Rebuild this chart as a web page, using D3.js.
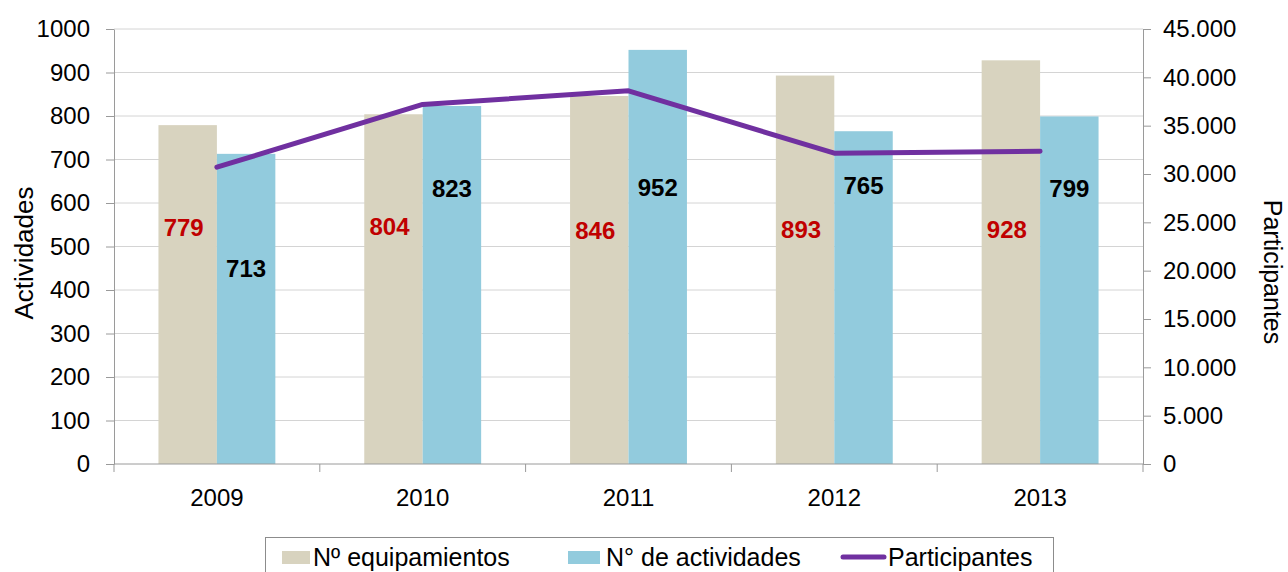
<!DOCTYPE html>
<html lang="es">
<head>
  <meta charset="UTF-8">
  <title>Actividades y participantes 2009-2013</title>
  <style>
    body {
      margin: 0;
      background: #fff;
      font-family: "Liberation Sans", Arial, sans-serif;
    }
    svg text { font-family: "Liberation Sans", Arial, sans-serif; }
  </style>
</head>
<body>
  <svg id="chart" width="1288" height="572"></svg>

  <script src="https://d3js.org/d3.v7.min.js"></script>
  <script>
    // data
    const years = ["2009", "2010", "2011", "2012", "2013"];
    const equipamientos = [779, 804, 846, 893, 928];
    const actividades = [713, 823, 952, 765, 799];
    const participantes = [30700, 37200, 38600, 32150, 32350];
    // where the value labels sit, in left-axis units (placed by hand in the original)
    const equipLabelAt = [543, 545, 537, 540, 538];
    const activLabelAt = [450, 632, 636, 640, 632];
    const leftTicks = [0, 100, 200, 300, 400, 500, 600, 700, 800, 900, 1000];
    const rightTicks = [0, 5000, 10000, 15000, 20000, 25000, 30000, 35000, 40000, 45000];

    const colEquip = "#d8d3bf";
    const colActiv = "#92cbdd";
    const colLine = "#7030a0";

    const margin = { left: 114, right: 145, top: 29, bottom: 108 };
    const W = 1288, H = 572;
    const plotW = W - margin.left - margin.right;
    const plotH = H - margin.top - margin.bottom;

    const svg = d3.select("#chart");
    const g = svg.append("g").attr("transform", `translate(${margin.left},${margin.top})`);

    const x = d3.scaleBand().domain(years).range([0, plotW]);
    const xIn = d3.scaleBand().domain(["eq", "ac"]).range([x.bandwidth() * 0.216, x.bandwidth() * 0.784]);
    const y = d3.scaleLinear().domain([0, 1000]).range([plotH, 0]);
    const y2 = d3.scaleLinear().domain([0, 45000]).range([plotH, 0]);

    // gridlines
    g.append("g")
      .selectAll("line")
      .data(leftTicks.slice(1))
      .join("line")
      .attr("x1", 0).attr("x2", plotW)
      .attr("y1", d => y(d)).attr("y2", d => y(d))
      .attr("stroke", "#d4d4d4").attr("stroke-width", 1);

    // bars
    const grp = g.selectAll(".yr")
      .data(years)
      .join("g")
      .attr("transform", d => `translate(${x(d)},0)`);

    grp.append("rect")
      .attr("x", xIn("eq"))
      .attr("width", xIn.bandwidth())
      .attr("y", (d, i) => y(equipamientos[i]))
      .attr("height", (d, i) => plotH - y(equipamientos[i]))
      .attr("fill", colEquip);

    grp.append("rect")
      .attr("x", xIn("ac"))
      .attr("width", xIn.bandwidth())
      .attr("y", (d, i) => y(actividades[i]))
      .attr("height", (d, i) => plotH - y(actividades[i]))
      .attr("fill", colActiv);

    // participants line
    const line = d3.line()
      .x((d, i) => x(years[i]) + x.bandwidth() / 2)
      .y(d => y2(d));

    g.append("path")
      .datum(participantes)
      .attr("d", line)
      .attr("fill", "none")
      .attr("stroke", colLine)
      .attr("stroke-width", 5)
      .attr("stroke-linecap", "round")
      .attr("stroke-linejoin", "round");

    // value labels
    grp.append("text")
      .attr("x", xIn("eq") + xIn.bandwidth() / 2 - 4)
      .attr("y", (d, i) => y(equipLabelAt[i]))
      .attr("dy", "0.35em")
      .attr("text-anchor", "middle")
      .attr("font-size", 24)
      .attr("font-weight", "bold")
      .attr("fill", "#c00000")
      .text((d, i) => equipamientos[i]);

    grp.append("text")
      .attr("x", xIn("ac") + xIn.bandwidth() / 2)
      .attr("y", (d, i) => y(activLabelAt[i]))
      .attr("dy", "0.35em")
      .attr("text-anchor", "middle")
      .attr("font-size", 24)
      .attr("font-weight", "bold")
      .attr("fill", "#000")
      .text((d, i) => actividades[i]);

    // left axis
    const axL = g.append("g")
      .call(d3.axisLeft(y).tickValues(leftTicks).tickFormat(d3.format("d"))
        .tickSize(8).tickPadding(16).tickSizeOuter(0));
    axL.select(".domain").attr("stroke", "#9a9a9a");
    axL.selectAll(".tick line").attr("stroke", "#9a9a9a");
    axL.selectAll("text").attr("font-size", 24).attr("fill", "#000");

    // right axis
    const fmt = d => d3.format(",")(d).replace(/,/g, ".");
    const axR = g.append("g")
      .attr("transform", `translate(${plotW},0)`)
      .call(d3.axisRight(y2).tickValues(rightTicks).tickFormat(fmt).tickSize(8).tickPadding(12).tickSizeOuter(0));
    axR.select(".domain").attr("stroke", "#9a9a9a");
    axR.selectAll(".tick line").attr("stroke", "#9a9a9a");
    axR.selectAll("text").attr("font-size", 24).attr("fill", "#000");

    // bottom axis: ticks between categories
    const axB = g.append("g").attr("transform", `translate(0,${plotH})`);
    axB.append("line")
      .attr("x1", 0).attr("x2", plotW)
      .attr("stroke", "#9a9a9a");
    axB.selectAll(".sep")
      .data(d3.range(years.length + 1))
      .join("line")
      .attr("x1", d => d * x.step()).attr("x2", d => d * x.step())
      .attr("y1", 0).attr("y2", 8)
      .attr("stroke", "#9a9a9a");
    axB.selectAll(".lab")
      .data(years)
      .join("text")
      .attr("x", d => x(d) + x.bandwidth() / 2)
      .attr("y", 34)
      .attr("dy", "0.35em")
      .attr("text-anchor", "middle")
      .attr("font-size", 24)
      .text(d => d);

    // axis titles
    svg.append("text")
      .attr("transform", "translate(33,253) rotate(-90)")
      .attr("text-anchor", "middle")
      .attr("font-size", 26)
      .text("Actividades");

    svg.append("text")
      .attr("transform", "translate(1264,272) rotate(90)")
      .attr("text-anchor", "middle")
      .attr("font-size", 25)
      .text("Participantes");

    // legend
    const leg = svg.append("g").attr("transform", "translate(265,537)");
    leg.append("rect")
      .attr("x", 0.5).attr("y", 0.5)
      .attr("width", 788).attr("height", 50)
      .attr("fill", "#fff").attr("stroke", "#8c8c8c");

    const items = [
      { name: "Nº equipamientos", type: "rect", color: colEquip, x: 17 },
      { name: "N° de actividades", type: "rect", color: colActiv, x: 303 },
      { name: "Participantes", type: "line", color: colLine, x: 575 }
    ];
    const li = leg.selectAll(".item")
      .data(items)
      .join("g")
      .attr("transform", d => `translate(${d.x},0)`);
    li.filter(d => d.type === "rect").append("rect")
      .attr("x", 0).attr("y", 14).attr("width", d => d.type === "rect" && d.x > 100 ? 32 : 28)
      .attr("height", 13)
      .attr("fill", d => d.color);
    li.filter(d => d.type === "line").append("line")
      .attr("x1", 3).attr("x2", 44).attr("y1", 20).attr("y2", 20)
      .attr("stroke", d => d.color).attr("stroke-width", 5).attr("stroke-linecap", "round");
    li.append("text")
      .attr("x", d => d.type === "line" ? 48 : (d.x > 100 ? 38 : 31))
      .attr("y", 20)
      .attr("dy", "0.35em")
      .attr("font-size", 25)
      .text(d => d.name);
  </script>
</body>
</html>
